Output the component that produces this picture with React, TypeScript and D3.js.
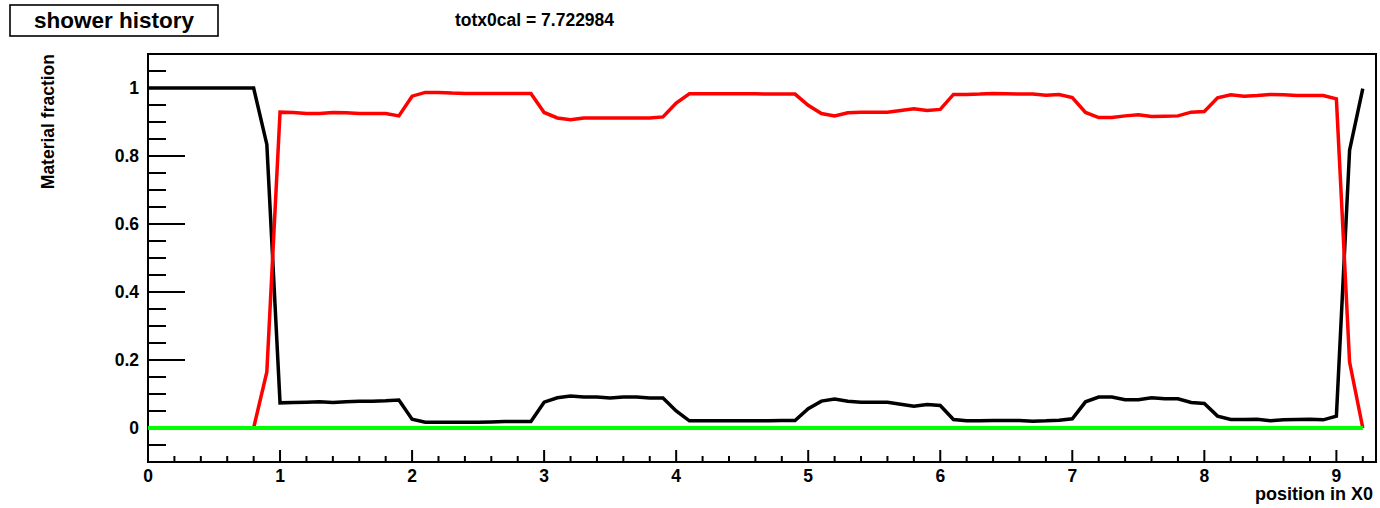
import React from "react";
import * as d3 from "d3";

const positions = [
  0.0, 0.1, 0.2, 0.3, 0.4, 0.5, 0.6, 0.7, 0.8, 0.9,
  1.0, 1.1, 1.2, 1.3, 1.4, 1.5, 1.6, 1.7, 1.8, 1.9,
  2.0, 2.1, 2.2, 2.3, 2.4, 2.5, 2.6, 2.7, 2.8, 2.9,
  3.0, 3.1, 3.2, 3.3, 3.4, 3.5, 3.6, 3.7, 3.8, 3.9,
  4.0, 4.1, 4.2, 4.3, 4.4, 4.5, 4.6, 4.7, 4.8, 4.9,
  5.0, 5.1, 5.2, 5.3, 5.4, 5.5, 5.6, 5.7, 5.8, 5.9,
  6.0, 6.1, 6.2, 6.3, 6.4, 6.5, 6.6, 6.7, 6.8, 6.9,
  7.0, 7.1, 7.2, 7.3, 7.4, 7.5, 7.6, 7.7, 7.8, 7.9,
  8.0, 8.1, 8.2, 8.3, 8.4, 8.5, 8.6, 8.7, 8.8, 8.9,
  9.0, 9.1, 9.2,
];

const blackSeries = [
  1, 1, 1, 1, 1, 1, 1, 1, 1, 0.834,
  0.074, 0.075, 0.076, 0.077, 0.075, 0.077, 0.079, 0.079, 0.08, 0.082,
  0.026, 0.017, 0.017, 0.017, 0.017, 0.017, 0.018, 0.019, 0.019, 0.019,
  0.076, 0.089, 0.094, 0.091, 0.091, 0.088, 0.091, 0.091, 0.088, 0.088,
  0.05, 0.021, 0.021, 0.021, 0.021, 0.021, 0.021, 0.021, 0.022, 0.022,
  0.057, 0.079, 0.085, 0.079, 0.076, 0.076, 0.076, 0.07, 0.064, 0.069,
  0.066, 0.025, 0.021, 0.021, 0.022, 0.022, 0.022, 0.02, 0.021, 0.023,
  0.027, 0.077, 0.091, 0.091, 0.083, 0.083, 0.089, 0.086, 0.086, 0.075,
  0.072, 0.035, 0.025, 0.025, 0.026, 0.021, 0.024, 0.025, 0.026, 0.024,
  0.035, 0.817, 0.998,
];

const redSeries = [
  0, 0, 0, 0, 0, 0, 0, 0, 0, 0.165,
  0.929, 0.928, 0.925, 0.925, 0.928, 0.927, 0.925, 0.925, 0.925, 0.918,
  0.976, 0.987, 0.987, 0.985, 0.984, 0.984, 0.984, 0.984, 0.984, 0.984,
  0.928, 0.912, 0.907, 0.912, 0.912, 0.912, 0.912, 0.912, 0.912, 0.915,
  0.956, 0.983, 0.983, 0.983, 0.983, 0.983, 0.983, 0.982, 0.982, 0.982,
  0.949, 0.925, 0.918, 0.927, 0.929, 0.929, 0.929, 0.934, 0.939, 0.934,
  0.937, 0.981, 0.981, 0.982, 0.984, 0.983, 0.982, 0.982, 0.979, 0.981,
  0.972, 0.928, 0.913, 0.913, 0.918, 0.921, 0.916, 0.917, 0.918, 0.929,
  0.931, 0.971, 0.98, 0.976, 0.978, 0.981, 0.98, 0.978, 0.978, 0.978,
  0.968, 0.194, 0,
];

const greenSeries = [
  0, 0, 0, 0, 0, 0, 0, 0, 0, 0,
  0, 0, 0, 0, 0, 0, 0, 0, 0, 0,
  0, 0, 0, 0, 0, 0, 0, 0, 0, 0,
  0, 0, 0, 0, 0, 0, 0, 0, 0, 0,
  0, 0, 0, 0, 0, 0, 0, 0, 0, 0,
  0, 0, 0, 0, 0, 0, 0, 0, 0, 0,
  0, 0, 0, 0, 0, 0, 0, 0, 0, 0,
  0, 0, 0, 0, 0, 0, 0, 0, 0, 0,
  0, 0, 0, 0, 0, 0, 0, 0, 0, 0,
  0, 0, 0,
];

const xMajorTicks = [0, 1, 2, 3, 4, 5, 6, 7, 8, 9];
const xTickLabels = ["0", "1", "2", "3", "4", "5", "6", "7", "8", "9"];
const yMajorTicks = [0, 0.2, 0.4, 0.6, 0.8, 1];
const yTickLabels = ["0", "0.2", "0.4", "0.6", "0.8", "1"];

const titleText = "shower history";
const infoText = "totx0cal = 7.722984";
const xTitle = "position in X0";
const yTitle = "Material fraction";

const FONT = "'Liberation Sans', Arial, Helvetica, sans-serif";

export default function App() {
  const W = 1380;
  const H = 508;
  const left = 148;
  const right = 1376;
  const top = 54;
  const bottom = 462;

  const x = d3.scaleLinear().domain([0, 9.3]).range([left, right]);
  const y = d3.scaleLinear().domain([-0.1, 1.1]).range([bottom, top]);

  const mk = (vals: number[]) =>
    d3
      .line<number>()
      .x((_, i) => x(positions[i]))
      .y((v) => y(v))(vals) || "";

  const xMinor = d3.range(0, 9.3001, 0.2).filter(
    (v) => Math.abs(v - Math.round(v)) > 1e-6
  );
  const yMinor = d3.range(-0.05, 1.0501, 0.05).filter(
    (v) => Math.abs(v * 5 - Math.round(v * 5)) > 1e-6
  );

  return (
    <svg
      width={W}
      height={H}
      style={{ position: "absolute", left: 0, top: 0, background: "#fff" }}
      fontFamily={FONT}
    >
      <rect x={0} y={0} width={W} height={H} fill="#fff" />
      {/* title box */}
      <rect x={10} y={5} width={208} height={31} fill="#fff" stroke="#000" strokeWidth={1.6} />
      <text x={114} y={28} textAnchor="middle" fontSize={22.5} fontWeight="bold" fill="#000">
        {titleText}
      </text>
      <text x={455} y={26} textAnchor="start" fontSize={17.5} fontWeight="bold" fill="#000">
        {infoText}
      </text>

      {/* frame */}
      <rect x={left} y={top} width={right - left} height={bottom - top} fill="none" stroke="#000" strokeWidth={2} />

      {/* x ticks */}
      {xMajorTicks.map((t) => (
        <line key={"xM" + t} x1={x(t)} x2={x(t)} y1={bottom} y2={bottom - 12} stroke="#000" strokeWidth={2} />
      ))}
      {xMinor.map((t) => (
        <line key={"xm" + t} x1={x(t)} x2={x(t)} y1={bottom} y2={bottom - 6} stroke="#000" strokeWidth={2} />
      ))}
      {xMajorTicks.map((t, i) => (
        <text key={"xl" + t} x={x(t)} y={482} textAnchor="middle" fontSize={17.5} fontWeight="bold" fill="#000">
          {xTickLabels[i]}
        </text>
      ))}

      {/* y ticks */}
      {yMajorTicks.map((t) => (
        <line key={"yM" + t} x1={left} x2={left + 37} y1={y(t)} y2={y(t)} stroke="#000" strokeWidth={2} />
      ))}
      {yMinor.map((t) => (
        <line key={"ym" + t} x1={left} x2={left + 18} y1={y(t)} y2={y(t)} stroke="#000" strokeWidth={2} />
      ))}
      {yMajorTicks.map((t, i) => (
        <text key={"yl" + t} x={139} y={y(t) + 6} textAnchor="end" fontSize={17.5} fontWeight="bold" fill="#000">
          {yTickLabels[i]}
        </text>
      ))}

      {/* axis titles */}
      <text x={1373} y={500} textAnchor="end" fontSize={18} fontWeight="bold" fill="#000">
        {xTitle}
      </text>
      <text
        transform={`translate(54,${top}) rotate(-90)`}
        textAnchor="end"
        fontSize={17.5}
        fontWeight="bold"
        fill="#000"
      >
        {yTitle}
      </text>

      {/* series */}
      <path d={mk(blackSeries)} fill="none" stroke="#000" strokeWidth={3.5} />
      <path d={mk(redSeries)} fill="none" stroke="#ff0000" strokeWidth={3.5} />
      <path d={mk(greenSeries)} fill="none" stroke="#00ff00" strokeWidth={4} />
    </svg>
  );
}
